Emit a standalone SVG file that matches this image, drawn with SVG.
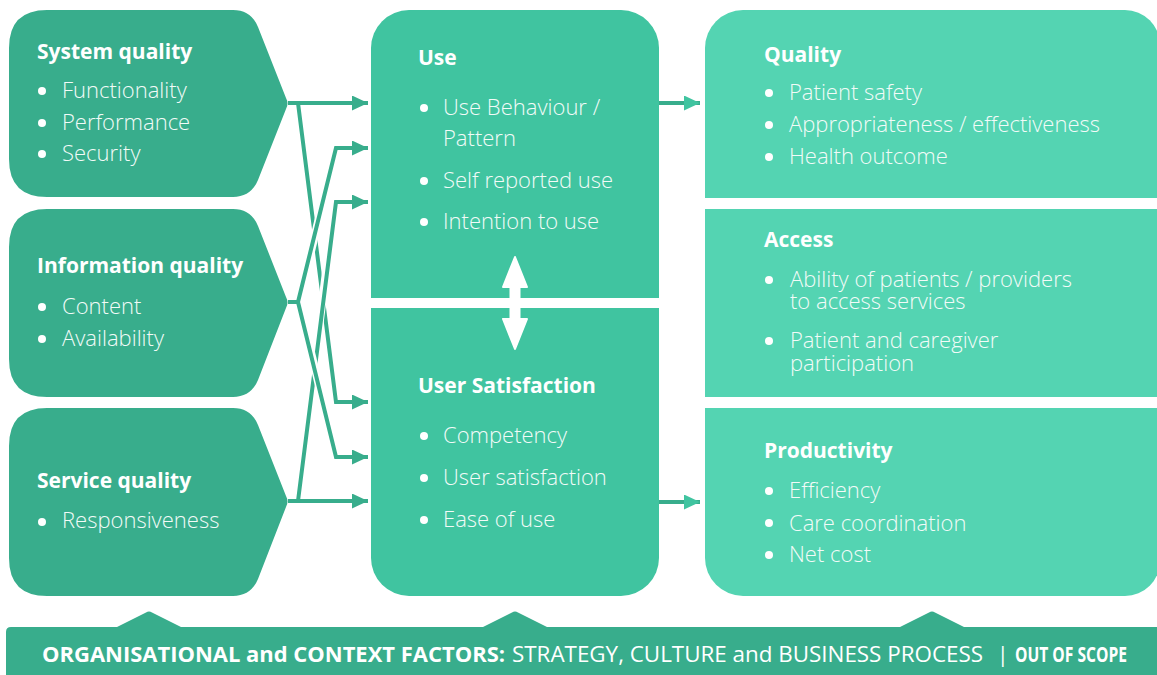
<svg xmlns="http://www.w3.org/2000/svg" width="1157" height="675" viewBox="0 0 1157 675">
  <style>
    .dark { fill: #38ad8c; }
    .mid { fill: #40c4a0; }
    .light { fill: #54d4b2; }
    .title { font-family: "Open Sans", "Liberation Sans", sans-serif; font-weight: 700; font-size: 21px; fill: #ffffff; }
    .item { font-family: "Open Sans", "Liberation Sans", sans-serif; font-weight: 300; font-size: 22px; fill: #f2fbf8; }
    .dot { fill: #ffffff; }
    .conn { fill: none; stroke: #38ad8c; stroke-width: 4; stroke-linejoin: miter; }
    .halo { fill: none; stroke: #ffffff; stroke-width: 8; }
    .banner-b { font-family: "Open Sans", "Liberation Sans", sans-serif; font-weight: 700; font-size: 21px; fill: #ffffff; }
    .banner-r { font-family: "Open Sans", "Liberation Sans", sans-serif; font-weight: 400; font-size: 21px; fill: #ffffff; }
  </style>
  <defs>
    <marker id="arrow" markerUnits="userSpaceOnUse" markerWidth="16" markerHeight="15" refX="16" refY="7.5" orient="auto">
      <path d="M0,0 L16,7.5 L0,15 Z" fill="#38ad8c"/>
    </marker>
    <marker id="arrow2" markerUnits="userSpaceOnUse" markerWidth="16" markerHeight="15" refX="16" refY="7.5" orient="auto">
      <path d="M0,0 L16,7.5 L0,15 Z" fill="#40c4a0"/>
    </marker>
  </defs>

  <!-- Left column: quality dimensions -->
  <g id="system-quality">
    <path class="dark" d="M9,48 Q9,10 47,10 L233,10 Q251,10 258,27 L286,98 Q289,103.5 286,109 L258,180 Q251,197 233,197 L47,197 Q9,197 9,159 Z"/>
    <text class="title" x="37" y="59">System quality</text>
    <circle class="dot" cx="42" cy="91" r="4"/>
    <text class="item" x="62" y="98">Functionality</text>
    <circle class="dot" cx="42" cy="123" r="4"/>
    <text class="item" x="62" y="130">Performance</text>
    <circle class="dot" cx="42" cy="154" r="4"/>
    <text class="item" x="62" y="161">Security</text>
  </g>
  <g id="information-quality">
    <path class="dark" d="M9,247 Q9,209 47,209 L233,209 Q251,209 258,226 L286,297 Q289,302.5 286,308 L258,380 Q251,397 233,397 L47,397 Q9,397 9,359 Z"/>
    <text class="title" x="37" y="273">Information quality</text>
    <circle class="dot" cx="42" cy="307" r="4"/>
    <text class="item" x="62" y="314">Content</text>
    <circle class="dot" cx="42" cy="339" r="4"/>
    <text class="item" x="62" y="346">Availability</text>
  </g>
  <g id="service-quality">
    <path class="dark" d="M9,446 Q9,408 47,408 L233,408 Q251,408 258,425 L286,496 Q289,501.5 286,507 L258,579 Q251,596 233,596 L47,596 Q9,596 9,558 Z"/>
    <text class="title" x="37" y="488">Service quality</text>
    <circle class="dot" cx="42" cy="522" r="4"/>
    <text class="item" x="62" y="528">Responsiveness</text>
  </g>

  <!-- Middle column -->
  <g id="use">
    <path class="mid" d="M371,298 V48 A38,38 0 0 1 409,10 H621 A38,38 0 0 1 659,48 V298 Z"/>
    <text class="title" x="418" y="65">Use</text>
    <circle class="dot" cx="424" cy="108" r="4"/>
    <text class="item" x="443" y="115">Use Behaviour /</text>
    <text class="item" x="443" y="146">Pattern</text>
    <circle class="dot" cx="424" cy="181" r="4"/>
    <text class="item" x="443" y="188">Self reported use</text>
    <circle class="dot" cx="424" cy="222" r="4"/>
    <text class="item" x="443" y="229">Intention to use</text>
  </g>
  <g id="user-satisfaction">
    <path class="mid" d="M371,308 H659 V558 A38,38 0 0 1 621,596 H409 A38,38 0 0 1 371,558 Z"/>
    <text class="title" x="418" y="393">User Satisfaction</text>
    <circle class="dot" cx="424" cy="436" r="4"/>
    <text class="item" x="443" y="443">Competency</text>
    <circle class="dot" cx="424" cy="478" r="4"/>
    <text class="item" x="443" y="485">User satisfaction</text>
    <circle class="dot" cx="424" cy="520" r="4"/>
    <text class="item" x="443" y="527">Ease of use</text>
  </g>

  <!-- Right column: net benefits -->
  <g id="quality">
    <path class="light" d="M705,198 V48 A38,38 0 0 1 743,10 H1125 A35,35 0 0 1 1160,45 V198 Z"/>
    <text class="title" x="764" y="62">Quality</text>
    <circle class="dot" cx="769" cy="93" r="4"/>
    <text class="item" x="789" y="100">Patient safety</text>
    <circle class="dot" cx="769" cy="125" r="4"/>
    <text class="item" x="789" y="132">Appropriateness / effectiveness</text>
    <circle class="dot" cx="769" cy="157" r="4"/>
    <text class="item" x="789" y="164">Health outcome</text>
  </g>
  <g id="access">
    <rect class="light" x="705" y="209" width="455" height="188"/>
    <text class="title" x="764" y="247">Access</text>
    <circle class="dot" cx="769" cy="280" r="4"/>
    <text class="item" x="790" y="287">Ability of patients / providers</text>
    <text class="item" x="790" y="309">to access services</text>
    <circle class="dot" cx="769" cy="341" r="4"/>
    <text class="item" x="790" y="348">Patient and caregiver</text>
    <text class="item" x="790" y="371">participation</text>
  </g>
  <g id="productivity">
    <path class="light" d="M705,408 H1160 V561 A35,35 0 0 1 1125,596 H743 A38,38 0 0 1 705,558 Z"/>
    <text class="title" x="764" y="458">Productivity</text>
    <circle class="dot" cx="769" cy="491" r="4"/>
    <text class="item" x="789" y="498">Efficiency</text>
    <circle class="dot" cx="769" cy="523" r="4"/>
    <text class="item" x="789" y="531">Care coordination</text>
    <circle class="dot" cx="769" cy="555" r="4"/>
    <text class="item" x="789" y="562">Net cost</text>
  </g>

  <!-- Two-way link between Use and User Satisfaction -->
  <g id="use-satisfaction-link">
    <path d="M515,257 L527,287 H519.5 V319 H527 L515,349 L503,319 H510.5 V287 H503 Z" fill="#ffffff" stroke="#ffffff" stroke-width="2" stroke-linejoin="round"/>
  </g>

  <!-- Connectors -->
  <g id="connectors">
    <path class="conn" d="M288,103 H368" marker-end="url(#arrow)"/>
    <path class="conn" d="M298,103 L336,402 H368" marker-end="url(#arrow)"/>
    <path class="conn" d="M288,501 H368" marker-end="url(#arrow)"/>
    <path class="halo" d="M305,439 L333,216"/>
    <path class="conn" d="M298,501 L336,202 H368" marker-end="url(#arrow)"/>
    <path class="halo" d="M303,285 L332,163"/>
    <path class="conn" d="M288,302 H298 L336,148 H368" marker-end="url(#arrow)"/>
    <path class="halo" d="M303,319 L332,440"/>
    <path class="conn" d="M298,302 L336,457 H368" marker-end="url(#arrow)"/>
    <path class="conn" d="M659,103 H700" marker-end="url(#arrow2)"/>
    <path class="conn" d="M659,502 H700" marker-end="url(#arrow2)"/>
  </g>

  <!-- Organisational context banner -->
  <g id="context-banner">
    <path class="dark" d="M6,632 Q6,627 11,627 H117 L146,612.5 Q149,610.5 152,612.5 L181,627 H483 L512,612.5 Q515,610.5 518,612.5 L547,627 H900 L929,612.5 Q932,610.5 935,612.5 L964,627 H1160 V675 H6 Z"/>
    <text class="banner-b" x="42" y="662" textLength="463" lengthAdjust="spacingAndGlyphs">ORGANISATIONAL and CONTEXT FACTORS:</text>
    <text class="banner-r" x="512" y="662" textLength="471" lengthAdjust="spacingAndGlyphs">STRATEGY, CULTURE and BUSINESS PROCESS</text>
    <text class="banner-r" x="997" y="662" font-size="15">|</text>
    <text class="banner-b" x="1015" y="662" font-size="15" textLength="112" lengthAdjust="spacingAndGlyphs">OUT OF SCOPE</text>
  </g>
</svg>
